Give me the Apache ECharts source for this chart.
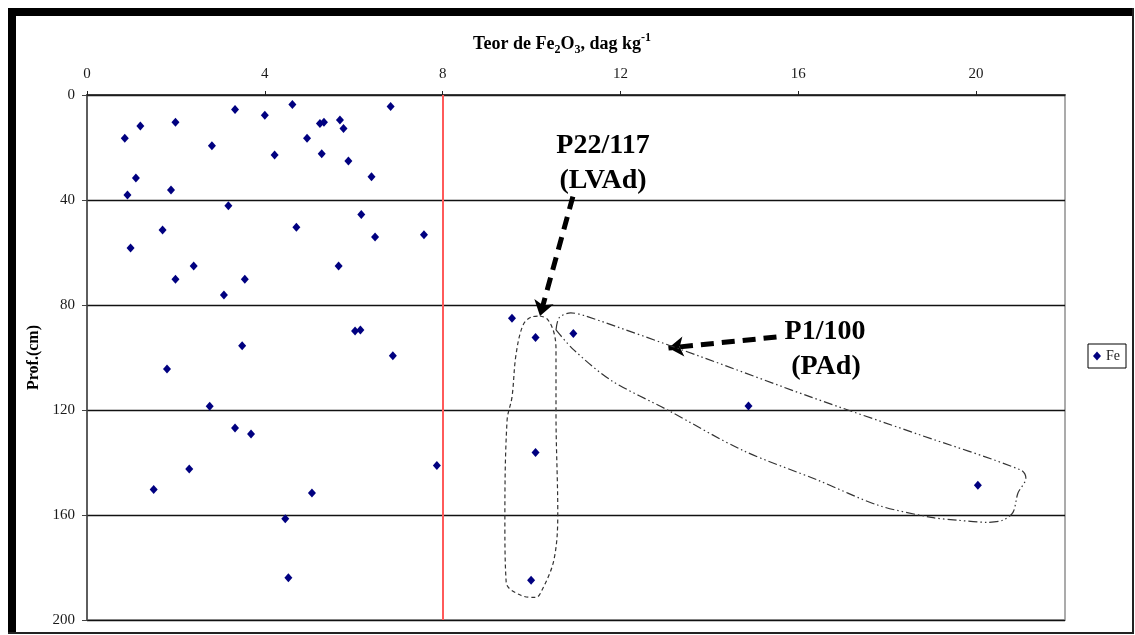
<!DOCTYPE html>
<html>
<head>
<meta charset="utf-8">
<style>
  html, body { margin: 0; padding: 0; background: #fff; }
  #chart { width: 1135px; height: 635px; }
</style>
<script src="https://cdn.jsdelivr.net/npm/echarts@6/dist/echarts.min.js"></script>
</head>
<body>
<div id="chart"></div>
<script>
// Fe2O3 content (dag/kg) against sampling depth (cm)
const feContent = [
  0.85, 1.2, 1.99, 3.33, 4.0, 4.62, 6.83, 2.81, 4.22, 4.95, 5.24, 5.33, 5.69, 5.77,
  5.28, 5.88, 6.4, 1.1, 0.91, 1.89, 3.18, 6.17, 1.7, 4.71, 6.48, 7.58, 0.98, 2.4,
  5.66, 1.99, 3.55, 3.08, 6.03, 6.15, 3.49, 6.88, 1.8, 2.76, 3.33, 3.69, 2.3, 7.87,
  1.5, 5.06, 4.46, 4.53, 9.56, 10.09, 10.94, 14.88, 10.09, 9.99, 20.04
];
const depthCm = [
  16.5, 11.8, 10.4, 5.5, 7.7, 3.6, 4.4, 19.3, 22.9, 16.5, 10.9, 10.4, 9.5, 12.8,
  22.4, 25.1, 31.1, 31.6, 38.1, 36.2, 42.2, 45.5, 51.4, 50.4, 54.1, 53.2, 58.3, 65.1,
  65.1, 70.2, 70.2, 76.2, 89.9, 89.5, 95.5, 99.3, 104.4, 118.6, 126.9, 129.1, 142.5, 141.1,
  150.3, 151.6, 161.4, 183.9, 85.0, 92.4, 90.9, 118.5, 136.2, 184.9, 148.7
];
const xTicks = [0, 4, 8, 12, 16, 20];
const feLimit = 8;

// hand-drawn outlines around the two profiles, in data units [Fe, depth]
const loopLVAd = [
  [10.19, 84.2], [10.35, 85.3], [10.5, 90.3], [10.55, 97.1], [10.55, 121.2], [10.59, 159.4],
  [10.5, 177.3], [10.21, 189.5], [10.1, 191.4], [9.76, 190.6], [9.43, 185.7], [9.4, 162],
  [9.45, 123.9], [9.56, 115.1], [9.65, 99], [9.81, 87.6], [10.01, 84.5], [10.19, 84.2]
];
const loopPAd = [
  [10.55, 89.5], [10.62, 84.9], [10.88, 83.0], [11.22, 84.2], [13.76, 99.4], [16.29, 115.1],
  [18.69, 129.2], [21.01, 142.9], [21.12, 146.0], [20.94, 151.7], [20.83, 159.0], [20.6, 162.0],
  [20.26, 162.8], [19.59, 162.0], [18.99, 160.9], [17.8, 156.3], [16.45, 146.8], [14.74, 135.3],
  [13.06, 120.0], [11.78, 108.6], [10.95, 97.1], [10.55, 89.5]
];
const arrowLVAd = [[10.93, 38.7], [10.19, 84.2]];
const arrowPAd = [[15.51, 92.2], [13.08, 96.4]];

const serif = '"Liberation Serif", "Times New Roman", serif';
const chart = echarts.init(document.getElementById('chart'), null, { renderer: 'canvas' });

chart.setOption({
  animation: false,
  backgroundColor: '#fff',
  title: {
    left: 557, top: 27, textAlign: 'center',
    text: '{b|Teor de Fe}{sub|2}{b|O}{sub|3}{b|, dag kg}{sup|-1}',
    textStyle: {
      rich: {
        b: { fontFamily: serif, fontWeight: 'bold', fontSize: 18, color: '#000', lineHeight: 24 },
        sub: { fontFamily: serif, fontWeight: 'bold', fontSize: 12, color: '#000', lineHeight: 13, verticalAlign: 'bottom' },
        sup: { fontFamily: serif, fontWeight: 'bold', fontSize: 12, color: '#000', lineHeight: 13, verticalAlign: 'top' }
      }
    }
  },
  legend: {
    data: [{ name: 'Fe', icon: 'diamond' }],
    left: 1088, top: 344, orient: 'vertical',
    padding: [5, 6, 5, 5],
    itemWidth: 8, itemHeight: 9,
    borderColor: '#000', borderWidth: 1,
    textStyle: { fontFamily: serif, fontSize: 14, color: '#222' }
  },
  grid: {
    left: 87, right: 70, top: 95, bottom: 15,
    show: true, borderColor: '#ababab', borderWidth: 2
  },
  xAxis: {
    type: 'value', position: 'top',
    min: 0, max: 22, interval: 4,
    axisLine: { show: true, lineStyle: { color: '#222', width: 1.5 } },
    axisTick: { show: true, length: 4, customValues: xTicks, lineStyle: { color: '#222' } },
    axisLabel: { customValues: xTicks, margin: 13, fontFamily: serif, fontSize: 15, color: '#1a1a1a' },
    splitLine: { show: false }
  },
  yAxis: {
    type: 'value', inverse: true,
    min: 0, max: 200, interval: 40,
    name: 'Prof.(cm)', nameLocation: 'middle', nameGap: 44, nameRotate: 90,
    nameTextStyle: { fontFamily: serif, fontWeight: 'bold', fontSize: 16, color: '#000' },
    axisLine: { show: true, lineStyle: { color: '#444', width: 1.5 } },
    axisTick: { show: true, length: 5, lineStyle: { color: '#444' } },
    axisLabel: { margin: 12, fontFamily: serif, fontSize: 15, color: '#1a1a1a' },
    splitLine: { show: true, lineStyle: { color: '#111', width: 1.3 } }
  },
  series: [
    {
      name: 'Fe', type: 'scatter',
      symbol: 'diamond', symbolSize: [8, 9],
      itemStyle: { color: '#000080', opacity: 1 },
      data: feContent.map((v, i) => [v, depthCm[i]]),
      z: 5,
      markLine: {
        silent: true, symbol: 'none', label: { show: false },
        lineStyle: { color: '#ff5a5a', width: 2, type: 'solid' },
        data: [{ xAxis: feLimit }]
      }
    },
    {
      name: 'LVAd outline', type: 'line', data: loopLVAd,
      smooth: 0.35, showSymbol: false, silent: true,
      lineStyle: { color: '#333', width: 1.2, type: [4, 3] }
    },
    {
      name: 'PAd outline', type: 'line', data: loopPAd,
      smooth: 0.3, showSymbol: false, silent: true,
      lineStyle: { color: '#333', width: 1.2, type: [9, 3, 1.5, 3, 1.5, 3] }
    },
    {
      name: 'arrows', type: 'lines', coordinateSystem: 'cartesian2d',
      symbol: ['none', 'arrow'], symbolSize: [11, 15], silent: true,
      lineStyle: { color: '#000', width: 5, type: [13, 8], opacity: 1 },
      data: [{ coords: arrowLVAd }, { coords: arrowPAd }]
    }
  ],
  graphic: [
    { type: 'rect', shape: { x: 8, y: 8, width: 1126, height: 8 }, style: { fill: '#000' }, silent: true },
    { type: 'rect', shape: { x: 8, y: 8, width: 8, height: 626 }, style: { fill: '#000' }, silent: true },
    { type: 'rect', shape: { x: 1132, y: 8, width: 2, height: 626 }, style: { fill: '#222' }, silent: true },
    { type: 'rect', shape: { x: 8, y: 632, width: 1126, height: 2 }, style: { fill: '#222' }, silent: true },
    { type: 'text', x: 603, y: 146, style: { text: 'P22/117', font: 'bold 28px ' + serif, fill: '#000', textAlign: 'center', textVerticalAlign: 'middle' } },
    { type: 'text', x: 603, y: 181, style: { text: '(LVAd)', font: 'bold 28px ' + serif, fill: '#000', textAlign: 'center', textVerticalAlign: 'middle' } },
    { type: 'text', x: 825, y: 332, style: { text: 'P1/100', font: 'bold 28px ' + serif, fill: '#000', textAlign: 'center', textVerticalAlign: 'middle' } },
    { type: 'text', x: 826, y: 367, style: { text: '(PAd)', font: 'bold 28px ' + serif, fill: '#000', textAlign: 'center', textVerticalAlign: 'middle' } }
  ]
});
</script>
</body>
</html>
